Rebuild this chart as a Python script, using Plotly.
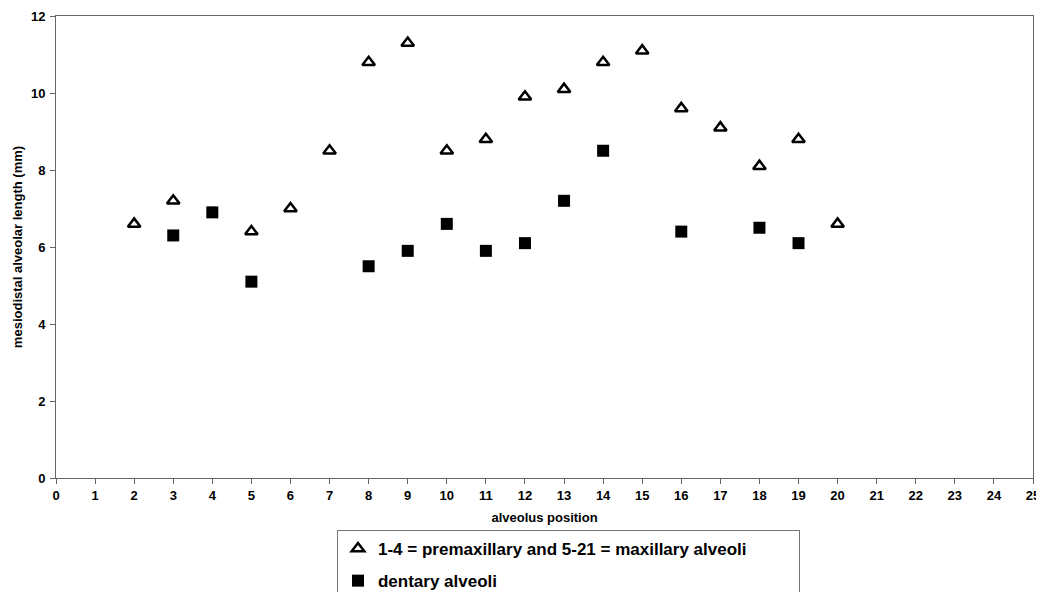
import plotly.graph_objects as go

tri_x = [2, 3, 5, 6, 7, 8, 9, 10, 11, 12, 13, 14, 15, 16, 17, 18, 19, 20]
tri_y = [6.6, 7.2, 6.4, 7.0, 8.5, 10.8, 11.3, 8.5, 8.8, 9.9, 10.1, 10.8, 11.1, 9.6, 9.1, 8.1, 8.8, 6.6]
sq_x = [3, 4, 5, 8, 9, 10, 11, 12, 13, 14, 16, 18, 19]
sq_y = [6.3, 6.9, 5.1, 5.5, 5.9, 6.6, 5.9, 6.1, 7.2, 8.5, 6.4, 6.5, 6.1]
tri_name = "1-4 = premaxillary and 5-21 = maxillary alveoli" + "&nbsp;" * 10
sq_name = "dentary alveoli"

FONT = "Liberation Sans, Arial"

fig = go.Figure()
fig.add_trace(go.Scatter(x=tri_x, y=tri_y, mode="markers", name=tri_name, legendgroup="a",
                         marker=dict(symbol="triangle-up-open", size=11, color="black",
                                     line=dict(width=2.5, color="black"))))
fig.add_trace(go.Scatter(x=sq_x, y=sq_y, mode="markers", name=sq_name, legendgroup="b",
                         marker=dict(symbol="square", size=12, color="black")))

tickfont = dict(size=13, family=FONT, color="black", weight="bold")
fig.update_layout(
    width=1036, height=600,
    margin=dict(l=48, r=11, t=8, b=130),
    plot_bgcolor="white", paper_bgcolor="white",
    font=dict(family=FONT, color="black"),
    showlegend=True,
    legend=dict(x=0.2876, xref="paper", y=1 - 522 / 600, yref="container",
                xanchor="left", yanchor="top",
                bordercolor="#777", borderwidth=1, bgcolor="white",
                font=dict(size=17, family=FONT, color="black", weight="bold"),
                itemwidth=30, tracegroupgap=7, indentation=0),
    xaxis=dict(range=[0, 25], tickmode="linear", dtick=1, showgrid=False, zeroline=False,
               showline=True, linecolor="#666", linewidth=1, mirror=True, automargin=False,
               ticks="outside", ticklen=5, tickcolor="#666", tickfont=tickfont,
               title=dict(text="<b>alveolus position</b>", font=dict(size=13, family=FONT), standoff=11)),
    yaxis=dict(range=[0, 12], tickmode="linear", dtick=2, showgrid=False, zeroline=False,
               showline=True, linecolor="#666", linewidth=1, mirror=True, automargin=False,
               ticks="outside", ticklen=5, tickcolor="#666", tickfont=tickfont,
               ticklabelstandoff=2,
               title=dict(text="<b>mesiodistal alveolar length (mm)</b>", font=dict(size=13, family=FONT), standoff=5)),
)
fig.write_html("out.html")
